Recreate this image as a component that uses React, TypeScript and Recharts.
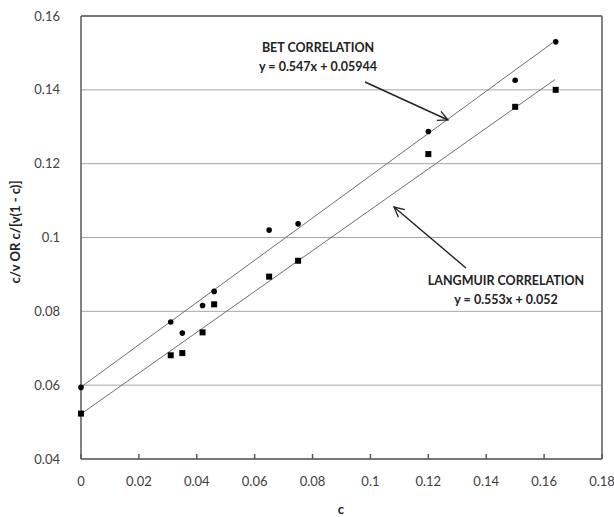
import React from "react";
import {
  ScatterChart,
  Scatter,
  XAxis,
  YAxis,
  CartesianGrid,
  ReferenceLine,
} from "recharts";

// Data
const cValues = [0, 0.031, 0.035, 0.042, 0.046, 0.065, 0.075, 0.12, 0.15, 0.164];
const betValues = [0.0594, 0.0771, 0.0741, 0.0816, 0.0854, 0.102, 0.1037, 0.1287, 0.1426, 0.153];
const langmuirValues = [0.0523, 0.0681, 0.0687, 0.0743, 0.0819, 0.0894, 0.0937, 0.1226, 0.1354, 0.14];

// fitted lines as drawn (end points)
const betFitX = [0, 0.163];
const betFitY = [0.0595, 0.1528];
const langFitX = [0, 0.1638];
const langFitY = [0.0522, 0.1428];

const xTicks = [0, 0.02, 0.04, 0.06, 0.08, 0.1, 0.12, 0.14, 0.16, 0.18];
const yTicks = [0.04, 0.06, 0.08, 0.1, 0.12, 0.14, 0.16];

const betPoints = cValues.map((x, i) => ({ x, y: betValues[i] }));
const langPoints = cValues.map((x, i) => ({ x, y: langmuirValues[i] }));
const betLine = betFitX.map((x, i) => ({ x, y: betFitY[i] }));
const langLine = langFitX.map((x, i) => ({ x, y: langFitY[i] }));

const FONT = "Lato, 'Open Sans', sans-serif";
const AXIS = "#595959";

const Dot = (props: any) => <circle cx={props.cx} cy={props.cy} r={2.8} fill="#000" />;
const Square = (props: any) => (
  <rect x={props.cx - 3} y={props.cy - 3} width={6} height={6} fill="#000" />
);
const NoShape = () => <g />;

export default function App() {
  return (
    <div style={{ position: "relative", width: 614, height: 517, background: "#fff" }}>
      <style>{"body{margin:0}"}</style>
      <ScatterChart
        width={614}
        height={517}
        margin={{ top: 16, right: 12, bottom: 28, left: 21 }}
      >
        <CartesianGrid horizontal vertical={false} stroke="#a6a6a6" />
        <XAxis
          type="number"
          dataKey="x"
          domain={[0, 0.18]}
          ticks={xTicks}
          height={30}
          stroke={AXIS}
          strokeWidth={1.5}
          tickSize={-5}
          tickMargin={23}
          tick={{ fill: "#404040", fontSize: 13, fontFamily: FONT }}
        />
        <YAxis
          type="number"
          dataKey="y"
          domain={[0.04, 0.16]}
          ticks={yTicks}
          width={60}
          stroke={AXIS}
          strokeWidth={1.5}
          tickLine={false}
          tickMargin={15}
          tick={{ fill: "#404040", fontSize: 13, fontFamily: FONT }}
        />
        <ReferenceLine y={0.16} stroke={AXIS} strokeWidth={1.5} />
        <ReferenceLine x={0.18} stroke={AXIS} strokeWidth={1.5} />
        <Scatter data={betLine} line={{ stroke: "#6e6e6e", strokeWidth: 1 }} shape={NoShape} isAnimationActive={false} />
        <Scatter data={langLine} line={{ stroke: "#6e6e6e", strokeWidth: 1 }} shape={NoShape} isAnimationActive={false} />
        <Scatter data={betPoints} shape={Dot} isAnimationActive={false} />
        <Scatter data={langPoints} shape={Square} isAnimationActive={false} />
      </ScatterChart>

      {/* annotations */}
      <svg
        width={614}
        height={517}
        style={{ position: "absolute", left: 0, top: 0, pointerEvents: "none" }}
        fontFamily={FONT}
      >
        <defs>
          <marker id="arr" markerWidth="12" markerHeight="12" refX="11" refY="6" orient="auto" markerUnits="userSpaceOnUse">
            <path d="M1,1 L11,6 L1,11" fill="none" stroke="#222" strokeWidth={1.3} />
          </marker>
        </defs>
        <text x={318} y={52} textAnchor="middle" fontSize={12.5} fontWeight="bold" fill="#222">
          BET CORRELATION
        </text>
        <text x={318} y={71} textAnchor="middle" fontSize={12.5} fontWeight="bold" fill="#222">
          y = 0.547x + 0.05944
        </text>
        <line x1={365} y1={82} x2={448} y2={120} stroke="#222" strokeWidth={1.4} markerEnd="url(#arr)" />

        <text x={506} y={285} textAnchor="middle" fontSize={12.5} fontWeight="bold" fill="#222">
          LANGMUIR CORRELATION
        </text>
        <text x={506} y={304} textAnchor="middle" fontSize={12.5} fontWeight="bold" fill="#222">
          y = 0.553x + 0.052
        </text>
        <line x1={466} y1={268} x2={394} y2={207} stroke="#222" strokeWidth={1.4} markerEnd="url(#arr)" />

        <text
          x={0}
          y={0}
          transform="translate(20 232) rotate(-90)"
          textAnchor="middle"
          fontSize={13}
          fontWeight="bold"
          fill="#222"
        >
          c/v OR c/[v(1 - c)]
        </text>
        <text x={341} y={514} textAnchor="middle" fontSize={13} fontWeight="bold" fill="#222">
          c
        </text>
      </svg>
    </div>
  );
}
